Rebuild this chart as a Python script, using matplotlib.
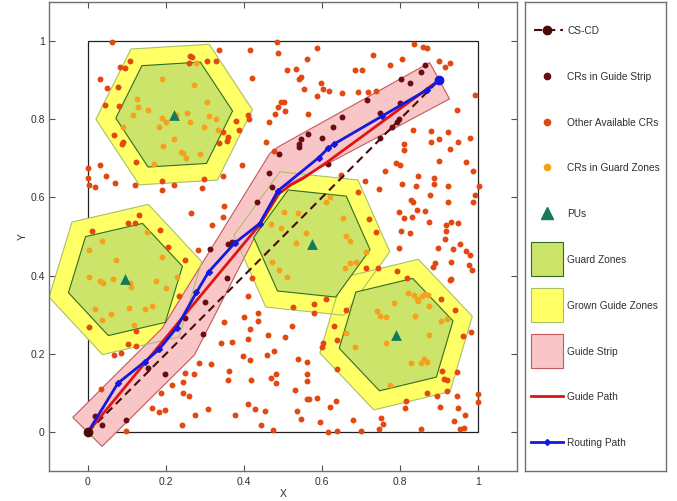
import matplotlib
matplotlib.use('Agg')
import numpy as np
import matplotlib.pyplot as plt
from matplotlib.patches import RegularPolygon, Polygon, Rectangle

plt.rcParams['font.family'] = ['Liberation Sans', 'DejaVu Sans']

# ---------------- data ----------------
tick_values = [0, 0.2, 0.4, 0.6, 0.8, 1]
tick_labels = ['0', '0.2', '0.4', '0.6', '0.8', '1']

# primary users (centres of the guard zones)
pu_x = [0.221, 0.096, 0.574, 0.790]
pu_y = [0.812, 0.390, 0.482, 0.249]
hex_rot_deg = [3.5, 13.0, -6.0, 13.5]
guard_radius = 0.150
grown_radius = 0.201

# source / destination (CS-CD)
cs_cd_x = [0.0, 0.9]
cs_cd_y = [0.0, 0.9]

# guide strip polygon
strip_x = [0.036, 0.273, 0.490, 0.927, 0.876, 0.487, 0.466, 0.190, -0.039]
strip_y = [-0.037, 0.197, 0.620, 0.852, 0.945, 0.729, 0.712, 0.265, 0.037]

# guide path
guide_x = [0.0, 0.24, 0.44, 0.49, 0.52, 0.55, 0.61, 0.9]
guide_y = [0.0, 0.29, 0.53, 0.61, 0.632, 0.648, 0.688, 0.9]

# routing path
route_x = [0.0, 0.077, 0.146, 0.182, 0.227, 0.278, 0.309, 0.376, 0.440, 0.487,
           0.592, 0.616, 0.630, 0.754, 0.869, 0.901]
route_y = [0.0, 0.125, 0.180, 0.211, 0.266, 0.357, 0.409, 0.483, 0.533, 0.617,
           0.702, 0.726, 0.736, 0.808, 0.875, 0.900]

# CRs inside guide strip
strip_cr_x = [0.018, 0.037, 0.097, 0.155, 0.198, 0.180, 0.295, 0.250, 0.301, 0.357,
              0.313, 0.358, 0.369, 0.433, 0.472, 0.465, 0.489, 0.540, 0.542, 0.545,
              0.563, 0.600, 0.615, 0.628, 0.651, 0.715, 0.750, 0.750, 0.780, 0.793,
              0.798, 0.801, 0.803, 0.826, 0.854, 0.863]
strip_cr_y = [0.040, 0.017, 0.031, 0.163, 0.149, 0.211, 0.250, 0.292, 0.333, 0.395,
              0.467, 0.481, 0.487, 0.588, 0.627, 0.662, 0.712, 0.730, 0.736, 0.749,
              0.762, 0.753, 0.685, 0.781, 0.806, 0.848, 0.815, 0.753, 0.781, 0.794,
              0.800, 0.842, 0.902, 0.893, 0.922, 0.938]

# other available CRs
other_x = [
    0.062, 0.107, 0.083, 0.094, 0.030, 0.050, 0.078, 0.043, 0.080, 0.067,
    0.089, 0.087, 0.123, 0.000, 0.032, 0.047, 0.000, 0.003, 0.018, 0.070,
    0.121, 0.191, 0.221, 0.189, 0.292, 0.297, 0.347, 0.262, 0.267, 0.258,
    0.306, 0.327, 0.337, 0.415, 0.485, 0.487, 0.421, 0.379, 0.387, 0.410,
    0.413, 0.347, 0.358, 0.356, 0.335, 0.456, 0.464, 0.479, 0.488, 0.495,
    0.395, 0.263, 0.350, 0.318, 0.132, 0.103, 0.121, 0.185, 0.009, 0.476,
    0.345,
    0.587, 0.561, 0.510, 0.533, 0.542, 0.546, 0.555, 0.598, 0.603, 0.588,
    0.617, 0.651, 0.684, 0.702, 0.731, 0.774, 0.805, 0.837, 0.860, 0.868,
    0.899, 0.915, 0.928, 0.692, 0.717, 0.739, 0.503, 0.506, 0.564, 0.992,
    0.945, 0.834, 0.879, 0.922, 0.880, 0.899, 0.950, 0.980, 0.810, 0.811,
    0.927, 0.899, 0.969, 0.790, 0.799, 0.762, 0.847, 0.887, 0.888, 0.986,
    1.003, 0.711, 0.747, 0.805, 0.840, 0.922, 0.992, 0.988, 0.828, 0.833,
    0.876, 0.844, 0.863, 0.922, 0.798, 0.809, 0.832, 0.875, 0.917, 0.931,
    0.918, 0.950, 0.803, 0.825, 0.692, 0.720, 0.739, 0.649,
    0.033, 0.098, 0.002, 0.123, 0.102, 0.123, 0.067, 0.084, 0.204, 0.250,
    0.282, 0.409, 0.437, 0.437, 0.401, 0.349, 0.415, 0.462, 0.342, 0.368,
    0.409, 0.398, 0.415, 0.458, 0.478, 0.284, 0.315, 0.361, 0.248, 0.271,
    0.358, 0.418, 0.470, 0.481, 0.481, 0.244, 0.215, 0.186, 0.244, 0.258,
    0.163, 0.197, 0.182, 0.275, 0.308, 0.376, 0.410, 0.428, 0.453, 0.443,
    0.474, 0.242, 0.421, 0.233,
    0.915, 0.953, 0.897, 0.935, 0.968, 0.979, 0.797, 0.931, 0.891, 0.884,
    0.976, 0.985, 0.927, 0.931, 0.793, 0.817, 0.743, 0.712, 0.662, 0.610,
    0.579, 0.579, 0.526, 0.630, 0.638, 0.602, 0.600, 0.522, 0.505, 0.539,
    0.562, 0.562, 0.562, 0.530, 0.562, 0.567, 0.587, 0.638, 0.636, 0.621,
    0.536, 0.545, 0.596, 0.616, 0.639, 0.680, 0.699, 0.751, 0.756, 0.745,
    0.815, 0.812, 0.855, 0.869, 0.895, 0.903, 0.920, 0.908, 0.912, 0.921,
    0.946, 0.946, 0.948, 0.966, 0.938, 0.955, 0.963, 1.001, 1.001, 0.962,
    0.981, 0.940, 0.906]
other_y = [
    0.998, 0.949, 0.933, 0.931, 0.904, 0.881, 0.882, 0.837, 0.835, 0.760,
    0.742, 0.737, 0.691, 0.675, 0.683, 0.656, 0.649, 0.631, 0.627, 0.636,
    0.631, 0.642, 0.631, 0.618, 0.623, 0.647, 0.656, 0.963, 0.960, 0.943,
    0.949, 0.949, 0.976, 0.978, 0.998, 0.969, 0.906, 0.796, 0.773, 0.812,
    0.800, 0.768, 0.755, 0.744, 0.738, 0.742, 0.792, 0.814, 0.831, 0.843,
    0.684, 0.561, 0.579, 0.530, 0.556, 0.535, 0.535, 0.517, 0.515, 0.720,
    0.550,
    0.983, 0.955, 0.925, 0.929, 0.902, 0.907, 0.878, 0.892, 0.877, 0.860,
    0.873, 0.868, 0.926, 0.927, 0.964, 0.939, 0.954, 0.992, 0.986, 0.983,
    0.949, 0.934, 0.944, 0.871, 0.871, 0.872, 0.845, 0.820, 0.813, 0.861,
    0.824, 0.773, 0.771, 0.767, 0.742, 0.750, 0.743, 0.751, 0.737, 0.721,
    0.724, 0.694, 0.691, 0.689, 0.682, 0.667, 0.655, 0.649, 0.634, 0.668,
    0.629, 0.643, 0.622, 0.634, 0.628, 0.630, 0.607, 0.588, 0.594, 0.589,
    0.606, 0.569, 0.566, 0.589, 0.563, 0.547, 0.551, 0.536, 0.530, 0.536,
    0.515, 0.534, 0.513, 0.508, 0.613, 0.546, 0.511, 0.657,
    0.110, 0.003, 0.269, 0.259, 0.226, 0.220, 0.198, 0.201, 0.473, 0.441,
    0.465, 0.349, 0.304, 0.285, 0.293, 0.280, 0.264, 0.247, 0.227, 0.229,
    0.237, 0.195, 0.184, 0.197, 0.207, 0.177, 0.174, 0.155, 0.152, 0.148,
    0.132, 0.133, 0.137, 0.148, 0.125, 0.127, 0.119, 0.099, 0.099, 0.093,
    0.062, 0.057, 0.051, 0.043, 0.058, 0.043, 0.071, 0.058, 0.053, 0.017,
    0.006, 0.018, 0.394, 0.347,
    0.494, 0.482, 0.471, 0.469, 0.463, 0.452, 0.471, 0.434, 0.431, 0.421,
    0.426, 0.415, 0.388, 0.392, 0.413, 0.395, 0.419, 0.420, 0.311, 0.340,
    0.327, 0.305, 0.319, 0.272, 0.234, 0.228, 0.217, 0.270, 0.244, 0.186,
    0.178, 0.149, 0.130, 0.107, 0.083, 0.085, 0.088, 0.160, 0.078, 0.065,
    0.053, 0.032, 0.026, 0.000, 0.003, 0.031, 0.003, 0.035, 0.021, 0.008,
    0.080, 0.061, 0.008, 0.099, 0.091, 0.065, 0.105, 0.157, 0.135, 0.133,
    0.154, 0.091, 0.060, 0.044, 0.027, 0.008, 0.010, 0.097, 0.076, 0.245,
    0.256, 0.312, 0.341]

# CRs inside guard zones
guard_cr_x = [
    0.125, 0.129, 0.154, 0.115, 0.191, 0.199, 0.226, 0.254, 0.262, 0.304,
    0.309, 0.329, 0.297, 0.334, 0.181, 0.091, 0.221, 0.193, 0.238, 0.244,
    0.252, 0.288, 0.168, 0.189, 0.278, 0.271,
    0.036, 0.003, 0.073, 0.151, 0.190, 0.003, 0.031, 0.039, 0.065, 0.107,
    0.110, 0.174, 0.227, 0.200, 0.017, 0.037, 0.060, 0.104, 0.145, 0.164,
    0.117,
    0.611, 0.620, 0.503, 0.539, 0.470, 0.496, 0.558, 0.534, 0.653, 0.661,
    0.673, 0.714, 0.472, 0.489, 0.510, 0.671, 0.688, 0.658,
    0.820, 0.835, 0.844, 0.845, 0.857, 0.865, 0.871, 0.875, 0.784, 0.742,
    0.750, 0.763, 0.838, 0.906, 0.921, 0.874, 0.763, 0.662, 0.684, 0.827,
    0.855, 0.862, 0.869, 0.774]
guard_cr_y = [
    0.853, 0.832, 0.823, 0.812, 0.804, 0.792, 0.811, 0.816, 0.794, 0.843,
    0.808, 0.800, 0.781, 0.773, 0.780, 0.780, 0.749, 0.732, 0.715, 0.713,
    0.702, 0.710, 0.685, 0.904, 0.944, 0.887,
    0.488, 0.465, 0.440, 0.512, 0.448, 0.397, 0.387, 0.382, 0.392, 0.382,
    0.371, 0.387, 0.397, 0.367, 0.314, 0.287, 0.302, 0.318, 0.314, 0.323,
    0.273,
    0.589, 0.600, 0.563, 0.561, 0.533, 0.523, 0.510, 0.484, 0.547, 0.501,
    0.489, 0.461, 0.434, 0.414, 0.397, 0.431, 0.434, 0.419,
    0.356, 0.350, 0.339, 0.335, 0.347, 0.352, 0.350, 0.321, 0.329, 0.309,
    0.296, 0.295, 0.296, 0.285, 0.290, 0.248, 0.227, 0.254, 0.216, 0.177,
    0.176, 0.187, 0.178, 0.120]

legend_labels = ['CS-CD', 'CRs in Guide Strip', 'Other Available CRs',
                 'CRs in Guard Zones', 'PUs', 'Guard Zones', 'Grown Guide Zones',
                 'Guide Strip', 'Guide Path', 'Routing Path']

# ---------------- colours ----------------
c_other = '#e2480f'
c_guard_cr = '#f5a11e'
c_strip_cr = '#6a0c10'
c_pu = '#137a5c'
c_guard_fc = '#cde46b'
c_guard_ec = '#2f6e22'
c_grown_fc = '#ffff66'
c_grown_ec = '#aabf6a'
c_strip_fc = '#f8c6c6'
c_strip_ec = '#c45a5a'
c_guide = '#e01414'
c_route = '#1418e0'
c_cscd = '#4a0a0a'
dash = (0, (3.9, 2.4))

W, H = 677, 501
fig = plt.figure(figsize=(W / 100, H / 100), dpi=100)
ax = fig.add_axes([49 / W, 1 - 471 / H, 468 / W, 469 / H])

# grown guide zones (fill)
for cx, cy, rot in zip(pu_x, pu_y, hex_rot_deg):
    ax.add_patch(RegularPolygon((cx, cy), 6, radius=grown_radius,
                                orientation=np.radians(rot - 90),
                                facecolor=c_grown_fc, edgecolor='none', zorder=1))
# guide strip
ax.add_patch(Polygon(np.column_stack([strip_x, strip_y]), closed=True,
                     facecolor=c_strip_fc, edgecolor=c_strip_ec, lw=0.8, zorder=2))
# grown zone outlines
for cx, cy, rot in zip(pu_x, pu_y, hex_rot_deg):
    ax.add_patch(RegularPolygon((cx, cy), 6, radius=grown_radius,
                                orientation=np.radians(rot - 90),
                                facecolor='none', edgecolor=c_grown_ec, lw=0.8, zorder=2.5))
# guard zones
for cx, cy, rot in zip(pu_x, pu_y, hex_rot_deg):
    ax.add_patch(RegularPolygon((cx, cy), 6, radius=guard_radius,
                                orientation=np.radians(rot - 90),
                                facecolor=c_guard_fc, edgecolor=c_guard_ec, lw=0.8, zorder=3))

# inner unit box
ax.add_patch(Rectangle((0, 0), 1, 1, fill=False, edgecolor='#202020', lw=0.9, zorder=0.5))

ms = 18
ax.scatter(other_x, other_y, s=ms, color=c_other, linewidths=0, zorder=4)
ax.scatter(guard_cr_x, guard_cr_y, s=ms, color=c_guard_cr, linewidths=0, zorder=4)
ax.scatter(strip_cr_x, strip_cr_y, s=ms, color=c_strip_cr, linewidths=0, zorder=4)
ax.scatter(pu_x, pu_y, s=60, marker='^', color=c_pu, linewidths=0, zorder=5)

ax.plot(cs_cd_x, cs_cd_y, color=c_cscd, lw=1.5, ls=dash, zorder=6)
ax.plot(guide_x, guide_y, color=c_guide, lw=2, zorder=7)
ax.plot(route_x, route_y, color=c_route, lw=2, marker='D', ms=3, zorder=8)
ax.plot(cs_cd_x[:1], cs_cd_y[:1], 'o', color=c_cscd, ms=6, zorder=9)
ax.plot(cs_cd_x[1:], cs_cd_y[1:], 'o', color=c_route, ms=6, zorder=9)

ax.set_xlim(-0.1, 1.1)
ax.set_ylim(-0.1, 1.1)
ax.set_xticks(tick_values)
ax.set_xticklabels(tick_labels)
ax.set_yticks(tick_values)
ax.set_yticklabels(tick_labels)
ax.tick_params(direction='in', length=4, top=True, right=True, labelsize=7.5,
               colors='#505050', labelcolor='#303030', pad=3)
ax.tick_params(axis='x', pad=4)
for sp in ax.spines.values():
    sp.set_color('#707070')
    sp.set_linewidth(1.0)
ax.set_xlabel('X', fontsize=7.5, color='#303030', labelpad=2)
ax.set_ylabel('Y', fontsize=7.5, color='#303030', labelpad=2)

# ---------------- legend box (laid out in pixel units) ----------------
LW_, LH_ = 141, 469
lax = fig.add_axes([525 / W, 1 - 471 / H, LW_ / W, LH_ / H])
lax.set_xlim(0, LW_)
lax.set_ylim(LH_, 0)
lax.set_xticks([])
lax.set_yticks([])
for sp in lax.spines.values():
    sp.set_color('#707070')
    sp.set_linewidth(1.0)

row0, pitch = 28.0, 45.8
hx0, hx1 = 6.0, 38.0
hxm = (hx0 + hx1) / 2
rows = [row0 + i * pitch for i in range(len(legend_labels))]

lax.plot([hx0 + 3, hx1], [rows[0]] * 2, color=c_cscd, lw=1.5, ls=dash)
lax.plot([hxm], [rows[0]], 'o', color=c_cscd, ms=6)
lax.plot([hxm], [rows[1]], 'o', color=c_strip_cr, ms=4.5)
lax.plot([hxm], [rows[2]], 'o', color=c_other, ms=4.5)
lax.plot([hxm], [rows[3]], 'o', color=c_guard_cr, ms=4.5)
lax.plot([hxm], [rows[4]], '^', color=c_pu, ms=8)
for r, fc, ec in [(rows[5], c_guard_fc, c_guard_ec), (rows[6], c_grown_fc, c_grown_ec),
                  (rows[7], c_strip_fc, c_strip_ec)]:
    lax.add_patch(Rectangle((hx0, r - 17), hx1 - hx0, 34, facecolor=fc, edgecolor=ec, lw=0.8))
lax.plot([hx0, hx1], [rows[8]] * 2, color=c_guide, lw=2)
lax.plot([hx0, hx1], [rows[9]] * 2, color=c_route, lw=2)
lax.plot([hxm], [rows[9]], 'D', color=c_route, ms=3)
for r, lab in zip(rows, legend_labels):
    lax.text(hx1 + 4, r + 1, lab, fontsize=7.25, color='#303030', va='center', ha='left')

fig.savefig('out.png', dpi=100)
